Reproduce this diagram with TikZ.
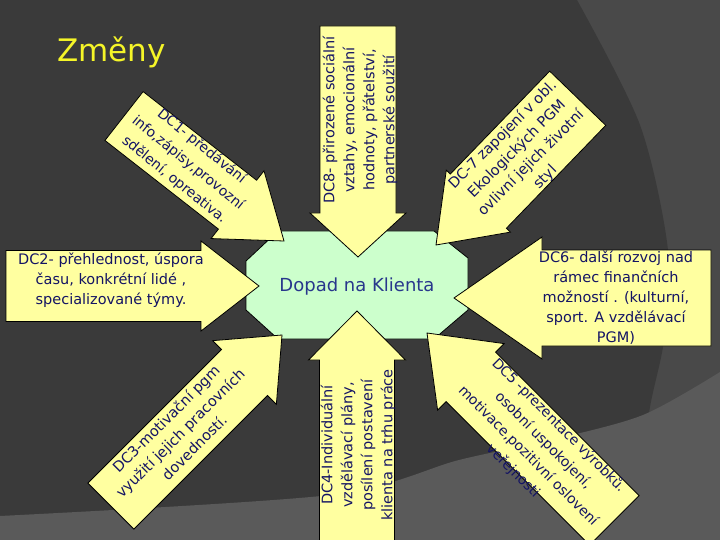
\documentclass[tikz,border=0pt]{standalone}
\usepackage{fontspec}
\setmainfont{DejaVu Sans}
\usepackage{xcolor}
\definecolor{bgdark}{RGB}{58,58,58}
\definecolor{bgmid}{RGB}{73,73,73}
\definecolor{bglight}{RGB}{90,90,90}
\definecolor{notepaper}{RGB}{255,255,160}
\definecolor{mint}{RGB}{204,255,204}
\definecolor{inkblue}{RGB}{20,20,100}
\definecolor{centreblue}{RGB}{40,55,140}
\definecolor{titleyellow}{RGB}{245,245,40}

\begin{document}
\begin{tikzpicture}[x=1pt, y=-1pt,
  blockarrow/.style={fill=notepaper, draw=black, line width=0.8pt, line join=miter},
  dctext/.style={text=inkblue, align=center, inner sep=0pt, font=\fontsize{14.5}{20}\selectfont},
  widetext/.style={dctext, font=\fontsize{14}{21.5}\selectfont}]
\useasboundingbox (0,0) rectangle (720,540);

% background rings
\fill[bgmid] (0,0) rectangle (720,540);
\fill[bgdark] (0,0) -- plot[smooth] coordinates {(577,0) (640,125) (668,250) (664,340) (648,420) (640,540)} -- (0,540) -- cycle;
\fill[bglight] (0,540) -- plot[smooth] coordinates {(0,516) (330,495) (459,460) (551,440) (643,415) (720,372)} -- (720,540) -- cycle;

\node[anchor=base west, inner sep=0pt, text=titleyellow, font=\fontsize{31}{36}\selectfont] (zmeny) at (57,62) {Změny};

% centre
\draw[fill=mint, draw=black, line width=0.8pt] (278,231) -- (434,231) -- (468,258) -- (468,310) -- (434,339) -- (278,339) -- (246,310) -- (246,261) -- cycle;
\node[text=centreblue, font=\fontsize{18}{22}\selectfont] (dopad) at (357,287) {Dopad na Klienta};

\coordinate (tip1) at (284,241);
\coordinate (tip2) at (259,286);
\coordinate (tip3) at (282,335);
\coordinate (tip4) at (357,311);
\coordinate (tip5) at (427,333);
\coordinate (tip6) at (454,298);
\coordinate (tip7) at (436,245);
\coordinate (tip8) at (358,257);

\draw[blockarrow, shift={(tip1)}, rotate=-38] (0,0) -- (-59,43) -- (-59,31) -- (-203,31) -- (-203,-31) -- (-59,-31) -- (-59,-43) -- cycle;
\draw[blockarrow, shift={(tip2)}, rotate=0] (0,0) -- (-58,45) -- (-58,35.5) -- (-253,35.5) -- (-253,-35.5) -- (-58,-35.5) -- (-58,-45) -- cycle;
\draw[blockarrow, shift={(tip3)}, rotate=45] (0,0) -- (-53,45) -- (-53,32.5) -- (-242,32.5) -- (-242,-32.5) -- (-53,-32.5) -- (-53,-45) -- cycle;
\draw[blockarrow, shift={(tip4)}, rotate=90] (0,0) -- (-49,48.5) -- (-49,37.5) -- (-250,37.5) -- (-250,-37.5) -- (-49,-37.5) -- (-49,-48.5) -- cycle;
\draw[blockarrow, shift={(tip5)}, rotate=135] (0,0) -- (-62,47) -- (-62,35) -- (-265,35) -- (-265,-35) -- (-62,-35) -- (-62,-47) -- cycle;
\draw[blockarrow, shift={(tip6)}, rotate=180] (0,0) -- (-88,61) -- (-88,48) -- (-257,48) -- (-257,-48) -- (-88,-48) -- (-88,-61) -- cycle;
\draw[blockarrow, shift={(tip7)}, rotate=-134] (0,0) -- (-61,44.6) -- (-61,39) -- (-204,39) -- (-204,-39) -- (-61,-39) -- (-61,-44.6) -- cycle;
\draw[blockarrow, shift={(tip8)}, rotate=-90] (0,0) -- (-44,48) -- (-44,38) -- (-231,38) -- (-231,-38) -- (-44,-38) -- (-44,-48) -- cycle;

\node[widetext, rotate=-39] (dc1) at (188,163) {DC1- předávání\\info,zápisy,provozní\\sdělení, opreativa.};
\node[dctext] (dc2) at (111,280) {DC2- přehlednost, úspora\\času, konkrétní lidé ,\\specializované týmy.};
\node[dctext, rotate=45] (dc3) at (180,433) {DC3-motivační pgm\\využití jejich pracovních\\dovedností.};
\node[dctext, rotate=90] (dc4) at (358,445) {DC4-Individuální\\vzdělávací plány,\\posílení postavení\\klienta na trhu práce};
\node[widetext, rotate=-45] (dc5) at (536,448) {DC5 -prezentace výrobků.\\osobní uspokojení,\\motivace,pozitivní oslovení\\veřejnosti};
\node[dctext] (dc6) at (616,298) {DC6- další rozvoj nad\\rámec finančních\\možností . (kulturní,\\sport. A vzdělávací\\PGM)};
\node[dctext, rotate=45] (dc7) at (524,156) {DC-7 zapojení v obl.\\Ekologických PGM\\ovlivní jejich životní\\styl};
\node[dctext, rotate=90] (dc8) at (360,120) {DC8- přirozené sociální\\vztahy, emocionální\\hodnoty, přátelství,\\partnerské soužití};
\end{tikzpicture}
\end{document}
